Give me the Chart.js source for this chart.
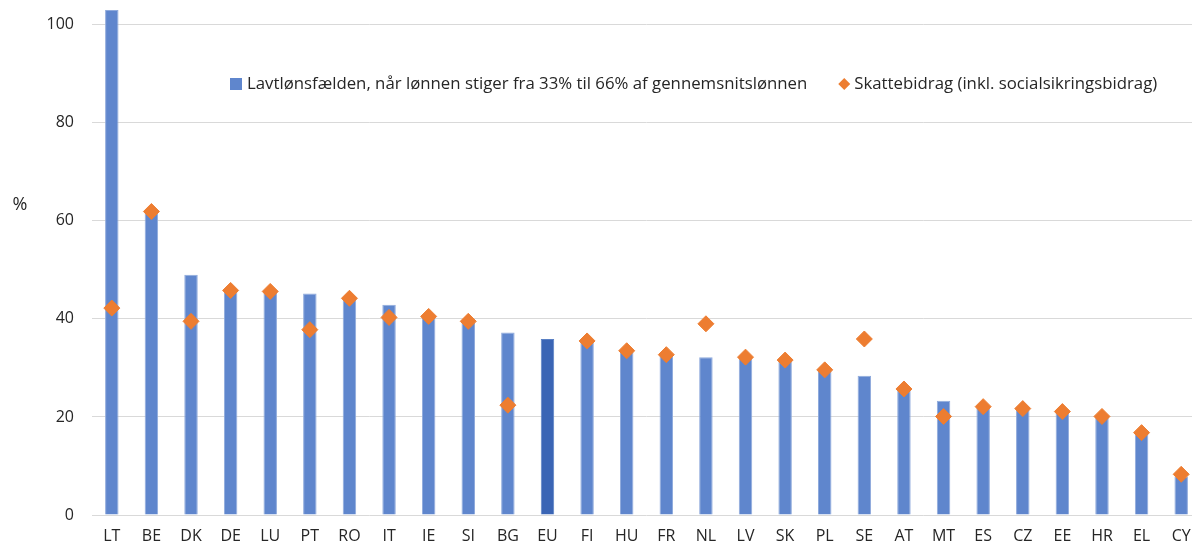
<!DOCTYPE html>
<html>
<head>
<meta charset="utf-8">
<script src="https://cdn.jsdelivr.net/npm/chart.js@4"></script>
<style>
  html, body { margin: 0; padding: 0; background: #fff; overflow: hidden; }
  #wrap { width: 1210px; height: 546px; position: relative; }
</style>
</head>
<body>
<div id="wrap"><canvas id="myChart"></canvas></div>
<script>
var categories = ["LT", "BE", "DK", "DE", "LU", "PT", "RO", "IT", "IE", "SI", "BG", "EU", "FI",
  "HU", "FR", "NL", "LV", "SK", "PL", "SE", "AT", "MT", "ES", "CZ", "EE", "HR", "EL", "CY"];
var lowWageTrap = [103, 61.7, 49.0, 46.0, 45.8, 45.2, 44.3, 42.9, 40.2, 39.3, 37.2, 35.9, 35.3,
  33.4, 32.6, 32.2, 32.0, 31.4, 29.4, 28.4, 25.4, 23.3, 21.9, 21.5, 20.9, 20.0, 16.6, 7.8];
var taxContribution = [42.2, 61.9, 39.5, 45.8, 45.6, 37.8, 44.2, 40.3, 40.5, 39.5, 22.4, null, 35.5,
  33.5, 32.7, 39.0, 32.2, 31.6, 29.6, 35.9, 25.7, 20.1, 22.1, 21.7, 21.1, 20.1, 16.8, 8.3];
var seriesLabels = [
  "Lavtlønsfælden, når lønnen stiger fra 33% til 66% af gennemsnitslønnen",
  "Skattebidrag (inkl. socialsikringsbidrag)"
];
var yTitle = "%";

var FONT = "'Open Sans', sans-serif";
var barColor = "#5F86CD";
var euColor = "#3A65B5";
var dotColor = "#ED7D31";

// "%" title and the legend sit inside the plot, drawn here
var extras = {
  id: "extras",
  afterDraw: function (chart) {
    var c = chart.ctx;
    c.save();
    c.fillStyle = "#262626";
    c.font = "18px " + FONT;
    c.textAlign = "center";
    c.textBaseline = "middle";
    c.fillText(yTitle, 20, 205);

    c.font = "16.8px " + FONT;
    c.textAlign = "left";
    var y = 84;
    c.fillStyle = barColor;
    c.fillRect(230, y - 6, 12, 12);
    c.fillStyle = "#262626";
    c.fillText(seriesLabels[0], 247, y);
    var x2 = 247 + c.measureText(seriesLabels[0]).width + 37;
    c.fillStyle = dotColor;
    c.beginPath();
    c.moveTo(x2, y - 6);
    c.lineTo(x2 + 6, y);
    c.lineTo(x2, y + 6);
    c.lineTo(x2 - 6, y);
    c.closePath();
    c.fill();
    c.fillStyle = "#262626";
    c.fillText(seriesLabels[1], x2 + 10, y);
    c.restore();
  }
};

var ctx = document.getElementById("myChart").getContext("2d");
var chart = new Chart(ctx, {
  type: "bar",
  data: {
    labels: categories,
    datasets: [
      {
        type: "line",
        label: seriesLabels[1],
        data: taxContribution,
        showLine: false,
        pointStyle: "rectRot",
        pointRadius: 8,
        pointBackgroundColor: dotColor,
        pointBorderColor: dotColor,
        pointBorderWidth: 1,
        order: 0
      },
      {
        label: seriesLabels[0],
        data: lowWageTrap,
        backgroundColor: categories.map(function (c) { return c === "EU" ? euColor : barColor; }),
        borderColor: categories.map(function (c) { return c === "EU" ? "#5A80C4" : "#8FAADC"; }),
        borderWidth: 1,
        categoryPercentage: 0.34,
        barPercentage: 1,
        order: 1
      }
    ]
  },
  options: {
    responsive: true,
    maintainAspectRatio: false,
    animation: false,
    layout: { padding: { left: 46, right: 8, top: 10, bottom: 0 } },
    plugins: {
      legend: { display: false },
      tooltip: { enabled: false }
    },
    scales: {
      x: {
        grid: { display: false, drawTicks: false },
        border: { display: false },
        ticks: {
          padding: 13,
          color: "#262626",
          font: { family: FONT, size: 16, lineHeight: 1.1 }
        },
        afterFit: function (s) {
          s.paddingLeft = 0;
          s.paddingRight = 0;
          s.height = 31;
        }
      },
      y: {
        min: 0,
        max: 103,
        grid: { color: "#D9D9D9", lineWidth: 1, drawTicks: false },
        border: { display: false },
        ticks: {
          stepSize: 20,
          includeBounds: false,
          padding: 18,
          color: "#262626",
          font: { family: FONT, size: 16 }
        },
        afterFit: function (s) {
          s.paddingTop = 0;
          s.paddingBottom = 0;
          s.width = 46;
        }
      }
    }
  },
  plugins: [extras]
});
</script>
</body>
</html>
